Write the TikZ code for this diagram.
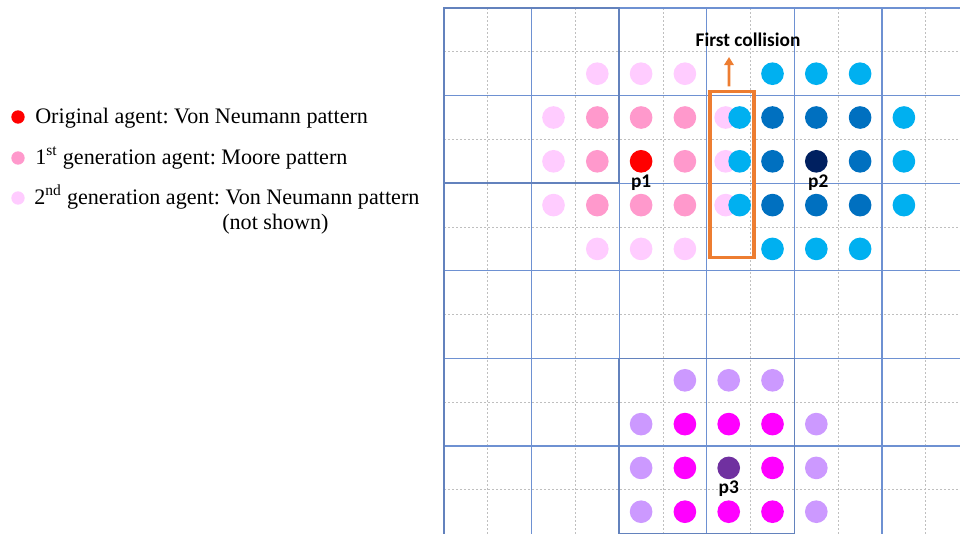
\documentclass[tikz,border=0pt]{standalone}
\usepackage{fontspec}
\setmainfont{Liberation Serif}
\newfontfamily\labelfont{Carlito}
\usetikzlibrary{arrows.meta,positioning}
\definecolor{agentred}{HTML}{FF0000}
\definecolor{agentpink}{HTML}{FF99CC}
\definecolor{agentlpink}{HTML}{FFCCFF}
\definecolor{agentcyan}{HTML}{00B0F0}
\definecolor{agentblue}{HTML}{0070C0}
\definecolor{agentnavy}{HTML}{002060}
\definecolor{agentmagenta}{HTML}{FF00FF}
\definecolor{agentlav}{HTML}{CC99FF}
\definecolor{agentpurple}{HTML}{7030A0}
\definecolor{collorange}{HTML}{ED7D31}
\definecolor{gridblue}{RGB}{110,145,210}

\begin{document}
\frenchspacing
\begin{tikzpicture}[
  x=0.75pt, y=-0.75pt,
  agent/.style={circle, fill=#1, inner sep=0pt, minimum size=17pt},
  legdot/.style={circle, fill=#1, inner sep=0pt, minimum size=10pt},
  legtext/.style={font=\fontsize{16.6}{19}\selectfont, inner sep=0pt},
  idlabel/.style={font=\labelfont\bfseries\fontsize{14.5}{16}\selectfont, inner sep=0pt},
  gridmajor/.style={draw=gridblue, line width=0.8pt},
  gridminor/.style={draw=black!25, dashed, dash pattern=on 1.5pt off 1.5pt, line width=0.5pt},
  blockline/.style={draw=gridblue!90!black, line width=1.2pt},
  collbox/.style={draw=collorange, line width=2.3pt, inner sep=0pt},
  arr/.style={-{Triangle[width=7pt,length=6pt]}, collorange, line width=2pt}
]
\useasboundingbox (0,0) rectangle (960,533);

% Legend
\node[legdot=agentred] (legorig) at (18,117) {};
\node[legtext, anchor=base west] (txtorig) at (35,123) {Original agent: Von Neumann pattern};
\node[legdot=agentpink] (legfirst) at (18,158) {};
\node[legtext, anchor=base west] (txtfirst) at (35,164) {1\textsuperscript{st} generation agent: Moore pattern};
\node[legdot=agentlpink] (legsecond) at (18,198) {};
\node[legtext, anchor=base west] (txtsecond) at (34,204) {2\textsuperscript{nd} generation agent: Von Neumann pattern};
\node[legtext, anchor=base west] (notshown) at (222,229) {(not shown)};

% Grid, in cell units
\begin{scope}[shift={(444,8)}, x=32.85pt, y=-32.85pt]
  \foreach \i in {1,3,...,11} \draw[gridminor] (\i,0) -- (\i,12);
  \foreach \j in {1,3,...,11} \draw[gridminor] (0,\j) -- (11.78,\j);
  \foreach \i in {0,2,...,10} \draw[gridmajor] (\i,0) -- (\i,12);
  \foreach \j in {0,2,...,10} \draw[gridmajor] (0,\j) -- (11.78,\j);
  \draw[blockline] (0,0) rectangle (4,4);
  \draw[blockline] (4,8) rectangle (8,12);
  \draw[blockline] (0,0) -- (0,12);

  % Agent p1 and its generations
  \foreach \c/\r in {2/2,2/3,2/4,3/1,4/1,5/1,3/5,4/5,5/5,5.93/2,5.93/3,5.93/4}
    \node[agent=agentlpink] at (\c+0.5,\r+0.5) {};
  \foreach \c/\r in {3/2,4/2,5/2,3/3,5/3,3/4,4/4,5/4}
    \node[agent=agentpink] at (\c+0.5,\r+0.5) {};
  \node[agent=agentred] (p1) at (4.5,3.5) {};

  % Agent p2 and its generations
  \foreach \c/\r in {7/1,8/1,9/1,7/5,8/5,9/5,10/2,10/3,10/4,6.25/2,6.25/3,6.25/4}
    \node[agent=agentcyan] at (\c+0.5,\r+0.5) {};
  \foreach \c/\r in {7/2,8/2,9/2,7/3,9/3,7/4,8/4,9/4}
    \node[agent=agentblue] at (\c+0.5,\r+0.5) {};
  \node[agent=agentnavy] (p2) at (8.5,3.5) {};

  % Agent p3 and its generations
  \foreach \c/\r in {5/8,6/8,7/8,4/9,4/10,4/11,8/9,8/10,8/11}
    \node[agent=agentlav] at (\c+0.5,\r+0.5) {};
  \foreach \c/\r in {5/9,6/9,7/9,5/10,7/10,5/11,6/11,7/11}
    \node[agent=agentmagenta] at (\c+0.5,\r+0.5) {};
  \node[agent=agentpurple] (p3) at (6.5,10.5) {};

  % Collision zone
  \node[collbox, minimum width=33pt, minimum height=124.5pt] (collbox) at (6.575,3.81) {};
\end{scope}

% Labels
\node[idlabel, below=1pt of p1] (p1lab) {p1};
\node[idlabel, below=1pt of p2, xshift=1.5pt] (p2lab) {p2};
\node[idlabel, below=1pt of p3] (p3lab) {p3};
\node[idlabel, anchor=base] (first) at (748,46) {First collision};
\coordinate (arrtip) at (729,57);
\draw[arr] ([xshift=-2.25pt,yshift=3pt]collbox.north) -- (arrtip);

\end{tikzpicture}
\end{document}
